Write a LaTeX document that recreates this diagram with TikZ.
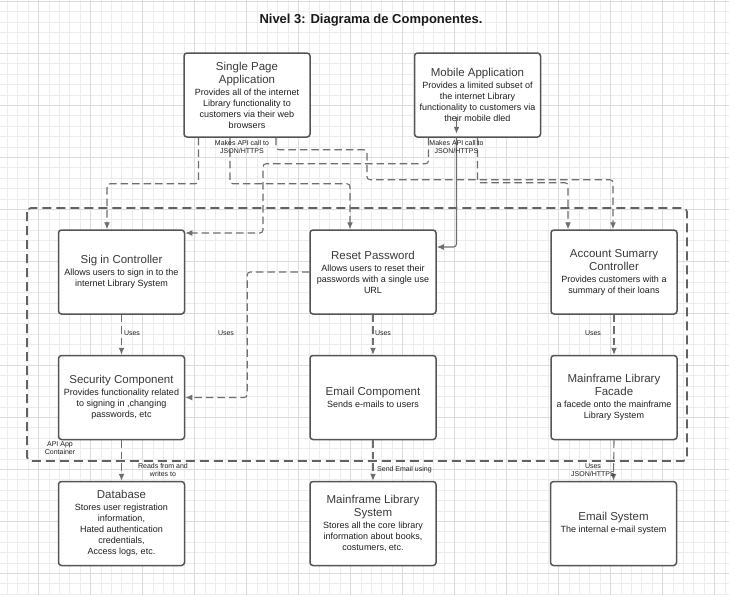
\documentclass[tikz,border=0pt]{standalone}
\usepackage{fontspec}
\setmainfont{Liberation Sans}
\usetikzlibrary{arrows.meta,calc}
\definecolor{gridmin}{HTML}{ECECEC}
\definecolor{gridmaj}{HTML}{DCDCDC}
\definecolor{boxc}{HTML}{555555}
\definecolor{connc}{HTML}{6E6E6E}
\definecolor{contc}{HTML}{626262}
\definecolor{titlec}{HTML}{3A3A3A}
\definecolor{descc}{HTML}{1E1E1E}
\definecolor{headc}{HTML}{1A1A1A}
\newcommand\comptitle[1]{{\fontsize{11.5}{13}\selectfont\color{titlec}#1}}
\tikzset{
  comp/.style={draw=boxc, line width=1.5pt, rounded corners=3pt, fill=white,
    minimum width=126pt, minimum height=84pt, align=center, inner sep=2pt,
    font=\fontsize{9}{11}\selectfont, text=descc},
  conn/.style={draw=connc, line width=1.1pt, dash pattern=on 7.5pt off 4pt,
    rounded corners=3pt, -{Latex[length=7pt,width=6pt]}},
  solidc/.style={draw=connc, line width=1.1pt, rounded corners=3pt,
    -{Latex[length=7pt,width=6pt]}},
  lbl/.style={font=\fontsize{7}{8}\selectfont, align=center, inner sep=0pt, text=descc},
  cont/.style={draw=contc, line width=1.8pt, dash pattern=on 9pt off 5pt, rounded corners=4pt}
}
\begin{document}
\begin{tikzpicture}[x=1pt,y=-1pt]
\useasboundingbox (0,0) rectangle (729,595);
\fill[white] (0,0) rectangle (729,595);
% grid
\foreach \i in {0,...,69} { \draw[gridmin, line width=0.8pt] ({7.3+10.4*\i},0) -- ({7.3+10.4*\i},595); }
\foreach \i in {0,...,57} { \draw[gridmin, line width=0.8pt] (0,{1.3+10.4*\i}) -- (729,{1.3+10.4*\i}); }
\foreach \i in {0,...,13} { \draw[gridmaj, line width=0.9pt] ({38.5+52*\i},0) -- ({38.5+52*\i},595); }
\foreach \i in {0,...,11} { \draw[gridmaj, line width=0.9pt] (0,{1.3+52*\i}) -- (729,{1.3+52*\i}); }

% title
\node[font=\fontsize{13}{15}\selectfont\bfseries, text=headc] (title) at (371,20) {Nivel 3: Diagrama de Componentes.};

% container
\draw[cont] (27,208) rectangle (687,461);
\node[lbl] (contlbl) at (60,448) {API App\\Container};

% boxes
\node[comp] (spa) at (247,95) {\comptitle{Single Page}\\[2pt]\comptitle{Application}\\[1pt]Provides all of the internet\\Library functionality to\\customers via their web\\browsers};
\node[comp] (mob) at (477.5,95) {\comptitle{Mobile Application}\\[1pt]Provides a limited subset of\\the internet Library\\functionality to customers via\\their mobile dled};
\node[comp] (sig) at (121.5,272) {\comptitle{Sig in Controller}\\[1pt]Allows users to sign in to the\\internet Library System};
\node[comp] (reset) at (373,272) {\comptitle{Reset Password}\\[1pt]Allows users to reset their\\passwords with a single use\\URL};
\node[comp] (acc) at (614,272) {\comptitle{Account Sumarry}\\[2pt]\comptitle{Controller}\\[1pt]Provides customers with a\\summary of their loans};
\node[comp] (sec) at (121.5,397.5) {\comptitle{Security Component}\\[1pt]Provides functionality related\\to signing in ,changing\\passwords, etc};
\node[comp] (emc) at (373,397.5) {\comptitle{Email Compoment}\\[1pt]Sends e-mails to users};
\node[comp] (fac) at (614,397.5) {\comptitle{Mainframe Library}\\[2pt]\comptitle{Facade}\\[1pt]a facede onto the mainframe\\Library System};
\node[comp] (db) at (121.5,523.5) {\comptitle{Database}\\[1pt]Stores user registration\\information,\\Hated authentication\\credentials,\\Access logs, etc.};
\node[comp] (mfs) at (373,523.5) {\comptitle{Mainframe Library}\\[2pt]\comptitle{System}\\[1pt]Stores all the core library\\information about books,\\costumers, etc.};
\node[comp] (es) at (613.5,523.5) {\comptitle{Email System}\\[1pt]The internal e-mail system};

% connectors from SPA
\draw[conn] ([xshift=-48.5pt]spa.south) -- ++(0,46) -| ([xshift=-14.5pt]sig.north);
\draw[conn] ([xshift=-17pt]spa.south) -- ++(0,46) -| ([xshift=-23pt]reset.north);
\draw[conn] ([xshift=29pt]spa.south) -- ++(0,12) -- ++(91,0) -- ++(0,30) -| ([xshift=-1pt]acc.north);
% connectors from mobile
\draw[conn] ([xshift=-49pt]mob.south) -- ++(0,26) -- ++(-165.5,0) |- ([yshift=39pt]sig.east);
\draw[solidc] ([xshift=-21pt,yshift=21pt]mob.south) -- ([xshift=-21pt,yshift=4pt]mob.south);
\draw[solidc] ([xshift=-21pt]mob.south) |- ([yshift=25pt]reset.east);
\draw[conn] (mob.south) -- ++(0,45) -| ([xshift=-46pt]acc.north);
\node[lbl] (apil1) at (242,147) {Makes API call to\\JSON/HTTPS};
\node[lbl] (apil2) at (456.5,147) {Makes API call to\\JSON/HTTPS};

% uses
\draw[conn] (sig.south) -- (sec.north);
\node[lbl] (u1) at (132,333) {Uses};
\draw[conn] (reset.west) -- ++(-62,0) |- (sec.east);
\node[lbl] (u2) at (226,333) {Uses};
\draw[conn] (reset.south) -- (emc.north);
\node[lbl] (u3) at (383,333) {Uses};
\draw[conn] (acc.south) -- (fac.north);
\node[lbl] (u4) at (593,333) {Uses};

% to bottom row
\draw[conn] (sec.south) -- (db.north);
\node[lbl] (rw) at (163,470) {Reads from and\\writes to};
\draw[conn] (emc.south) -- (mfs.north);
\node[lbl, anchor=west] (se) at (377,470) {Send Email using};
\draw[conn] (fac.south) -- (es.north);
\node[lbl] (uj) at (593,470) {Uses\\JSON/HTTPS};
\end{tikzpicture}
\end{document}
